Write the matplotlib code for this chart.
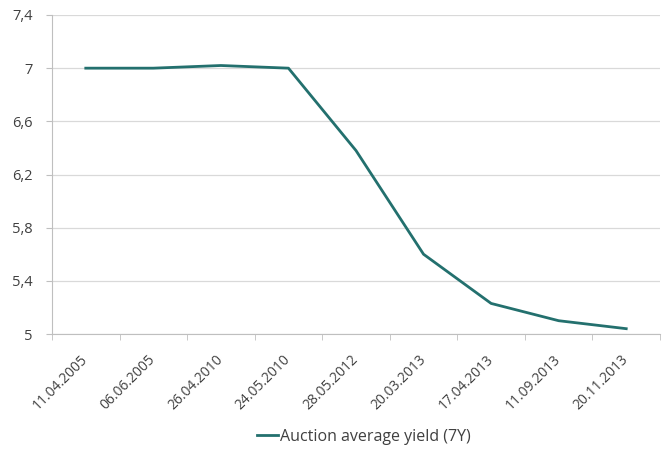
import numpy as np
import matplotlib.pyplot as plt

dates = ["11.04.2005", "06.06.2005", "26.04.2010", "24.05.2010", "28.05.2012",
         "20.03.2013", "17.04.2013", "11.09.2013", "20.11.2013"]
yields = [7.0, 7.0, 7.02, 7.0, 6.38, 5.6, 5.23, 5.1, 5.04]
yticks = [5, 5.4, 5.8, 6.2, 6.6, 7, 7.4]
ylabels = ["5", "5,4", "5,8", "6,2", "6,6", "7", "7,4"]

plt.rcParams['font.family'] = ['Open Sans', 'DejaVu Sans']

fig = plt.figure(figsize=(6.66, 4.5), dpi=100)
ax = fig.add_axes([52/666, 1 - 334/450, 608/666, 319/450])

x = np.arange(len(dates))
ax.plot(x, yields, color='#23706e', linewidth=2.0, label="Auction average yield (7Y)")

ax.set_xlim(-0.5, len(dates) - 0.5)
ax.set_ylim(5, 7.4)
ax.set_yticks(yticks)
ax.set_yticklabels(ylabels, fontsize=10.5, color='#404040')
ax.set_xticks(x)
ax.set_xticklabels(dates, rotation=45, ha='right', va='center',
                   rotation_mode='anchor', fontsize=10, color='#404040')
ax.tick_params(axis='x', length=0, pad=17)
ax.set_xticks(np.arange(-0.5, len(dates)), minor=True)
ax.tick_params(axis='x', which='minor', length=4, color='#bfbfbf')
ax.tick_params(axis='y', length=4, color='#bfbfbf', pad=10)

ax.grid(axis='y', color='#d9d9d9', linewidth=0.9)
ax.set_axisbelow(True)
for s in ['top', 'right']:
    ax.spines[s].set_visible(False)
for s in ['left', 'bottom']:
    ax.spines[s].set_color('#bfbfbf')

fig.legend(loc='center', bbox_to_anchor=(364/666, 1 - 437/450), frameon=False,
           fontsize=11.5, handlelength=1.3, handletextpad=0.1,
           labelcolor='#404040')

fig.savefig("out.png", dpi=100)
